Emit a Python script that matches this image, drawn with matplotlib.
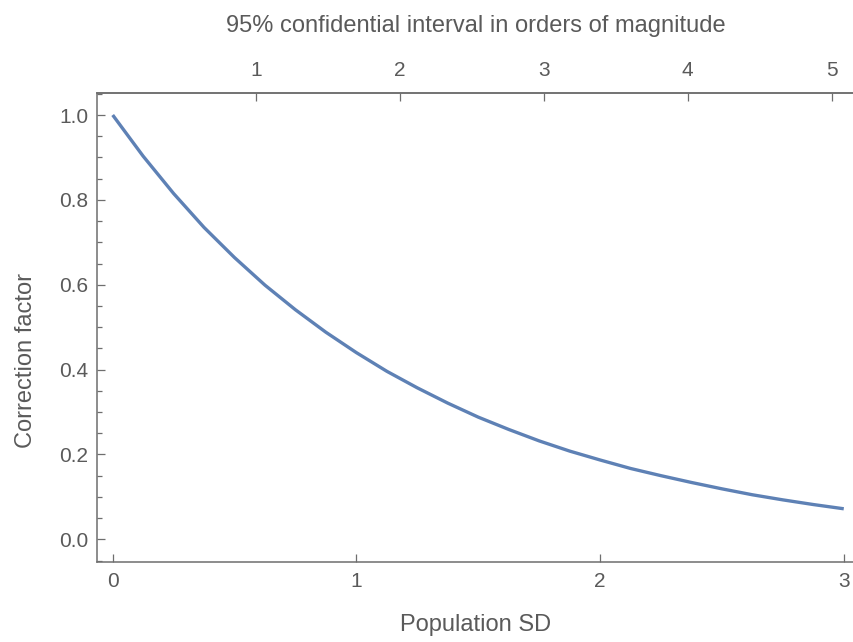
import matplotlib.pyplot as plt
from matplotlib.ticker import MultipleLocator

# values
population_sd = [0.0, 0.125, 0.25, 0.375, 0.5, 0.625, 0.75, 0.875, 1.0, 1.125, 1.25, 1.375,
                 1.5, 1.625, 1.75, 1.875, 2.0, 2.125, 2.25, 2.375, 2.5, 2.625, 2.75, 2.875, 3.0]
correction = [1.000, 0.903, 0.815, 0.735, 0.664, 0.599, 0.541, 0.488, 0.440, 0.396, 0.357, 0.321,
              0.288, 0.259, 0.232, 0.208, 0.187, 0.167, 0.150, 0.134, 0.119, 0.105, 0.093, 0.082, 0.072]

# 95% interval width in orders of magnitude per unit of SD
ci_per_sd = 1.695
top_ticks = [1, 2, 3, 4, 5]

line_color = "#5E81B5"
axis_color = "#6e6e6e"
text_color = "#5a5a5a"

plt.rcParams["font.family"] = ["Liberation Sans", "DejaVu Sans"]

fig = plt.figure(figsize=(8.54, 6.42), dpi=100)
ax = fig.add_axes([0.1139, 0.1241, 0.8861, 0.7318])

ax.plot(population_sd, correction, color=line_color, lw=2.4, solid_capstyle="butt",
        solid_joinstyle="round")

ax.set_xlim(-0.0632, 3.042)
ax.set_ylim(-0.0542, 1.053)

ax.xaxis.set_major_locator(MultipleLocator(1))
ax.yaxis.set_major_locator(MultipleLocator(0.2))
ax.yaxis.set_minor_locator(MultipleLocator(0.05))
ax.yaxis.set_major_formatter(plt.FormatStrFormatter("%.1f"))

ax.spines["right"].set_visible(False)
for side in ["left", "bottom", "top"]:
    ax.spines[side].set_color(axis_color)
    ax.spines[side].set_linewidth(1.1)

ax.tick_params(which="both", direction="in", colors=axis_color, labelcolor=text_color)
ax.tick_params(which="major", length=6, width=0.9, labelsize=15)
ax.tick_params(which="minor", length=3.6, width=0.9)
ax.tick_params(axis="x", pad=7)
ax.tick_params(axis="y", pad=6.3)

ax.set_xlabel("Population SD", color=text_color, fontsize=17)
ax.xaxis.set_label_coords(0.5, -0.109)
ax.set_ylabel("Correction factor", color=text_color, fontsize=17)
ax.yaxis.set_label_coords(-0.079, 0.4306)

top = ax.secondary_xaxis("top", functions=(lambda s: s * ci_per_sd, lambda c: c / ci_per_sd))
top.set_xticks(top_ticks)
top.spines["top"].set_color(axis_color)
top.spines["top"].set_linewidth(1.1)
top.tick_params(direction="in", colors=axis_color, labelcolor=text_color, length=6, width=0.9,
                labelsize=15, pad=8.7)

fig.text(476 / 854, 1 - 32 / 642, "95% confidential interval in orders of magnitude",
         ha="center", va="baseline", color=text_color, fontsize=17)

fig.savefig("out.png", dpi=100)
